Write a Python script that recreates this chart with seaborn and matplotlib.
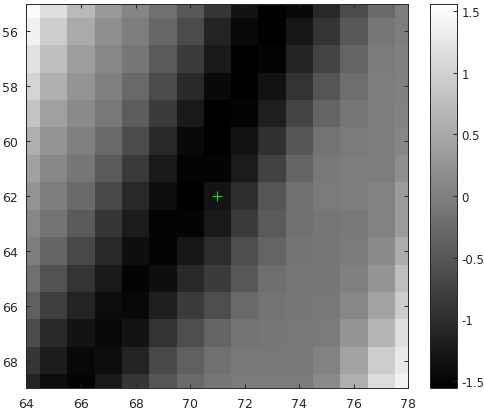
import numpy as np
import pandas as pd
import matplotlib
matplotlib.use("Agg")
import matplotlib.pyplot as plt
import seaborn as sns

# ── Data ───────────────────────────────────────────────────────────────────────
lon = [64, 65, 66, 67, 68, 69, 70, 71, 72, 73, 74, 75, 76, 77, 78]
lat = [55, 56, 57, 58, 59, 60, 61, 62, 63, 64, 65, 66, 67, 68, 69]
values = [
    [1.50, 1.16, 0.70, 0.30, 0.07, -0.19, -0.48, -0.89, -1.32, -1.56, -1.46, -1.07, -0.64, -0.27, -0.03],
    [1.38, 0.95, 0.52, 0.18, -0.03, -0.30, -0.64, -1.13, -1.46, -1.56, -1.29, -0.92, -0.48, -0.12, -0.03],
    [1.19, 0.76, 0.37, 0.09, -0.12, -0.46, -0.83, -1.25, -1.56, -1.50, -1.13, -0.73, -0.34, -0.07, 0.00],
    [1.03, 0.58, 0.25, 0.00, -0.27, -0.64, -1.05, -1.44, -1.56, -1.34, -0.95, -0.52, -0.21, -0.03, 0.00],
    [0.83, 0.40, 0.13, -0.09, -0.43, -0.83, -1.25, -1.56, -1.50, -1.19, -0.73, -0.34, -0.12, -0.03, 0.03],
    [0.58, 0.25, 0.00, -0.27, -0.64, -1.07, -1.44, -1.56, -1.34, -0.97, -0.52, -0.15, -0.07, -0.03, 0.09],
    [0.40, 0.09, -0.12, -0.46, -0.85, -1.25, -1.52, -1.50, -1.22, -0.76, -0.34, -0.09, -0.03, -0.03, 0.18],
    [0.25, -0.03, -0.27, -0.68, -1.07, -1.38, -1.56, -1.32, -1.01, -0.52, -0.19, -0.07, -0.03, 0.03, 0.34],
    [0.09, -0.15, -0.46, -0.89, -1.22, -1.50, -1.50, -1.25, -0.83, -0.46, -0.19, -0.12, -0.09, 0.03, 0.34],
    [-0.03, -0.34, -0.68, -1.07, -1.38, -1.52, -1.29, -1.01, -0.61, -0.34, -0.15, -0.12, -0.07, 0.13, 0.54],
    [-0.19, -0.56, -0.92, -1.25, -1.50, -1.38, -1.07, -0.83, -0.48, -0.21, -0.12, -0.12, 0.00, 0.25, 0.76],
    [-0.40, -0.80, -1.13, -1.41, -1.46, -1.19, -0.85, -0.61, -0.27, -0.15, -0.12, -0.09, 0.09, 0.42, 0.95],
    [-0.64, -1.05, -1.32, -1.46, -1.32, -0.95, -0.61, -0.34, -0.15, -0.12, -0.09, -0.07, 0.25, 0.64, 1.16],
    [-0.89, -1.22, -1.46, -1.38, -1.13, -0.68, -0.40, -0.19, -0.09, -0.09, -0.09, 0.03, 0.42, 0.95, 1.28],
    [-1.13, -1.41, -1.50, -1.25, -0.89, -0.52, -0.27, -0.12, -0.07, -0.07, -0.07, 0.13, 0.58, 1.13, 1.40],
]
x_ticks = [64, 66, 68, 70, 72, 74, 76, 78]
y_ticks = [56, 58, 60, 62, 64, 66, 68]
cbar_ticks = [-1.5, -1, -0.5, 0, 0.5, 1, 1.5]
cbar_labels = ["-1.5", "-1", "-0.5", "0", "0.5", "1", "1.5"]
marker_lon, marker_lat = 71, 62
vlim = 1.56

INK = "#262626"
plt.rcParams["font.family"] = "DejaVu Sans"
plt.rcParams["font.size"] = 9

df = pd.DataFrame(values, index=lat, columns=lon)

fig = plt.figure(figsize=(4.85, 4.10), dpi=100)
ax = fig.add_axes([26.5 / 485, 1 - 389 / 410, (408.5 - 26.5) / 485, (389 - 5) / 410])
cax = fig.add_axes([430.5 / 485, 1 - 389 / 410, (457.5 - 430.5) / 485, (389 - 5) / 410])

sns.heatmap(df, cmap="gray", vmin=-vlim, vmax=vlim, ax=ax, cbar_ax=cax,
            square=False, xticklabels=False, yticklabels=False)

# cell i is centred on i + 0.5, half cells are cut off at the edges
ax.set_xlim(0.5, len(lon) - 0.5)
ax.set_ylim(len(lat) - 0.5, 0.5)
ax.set_xticks([lon.index(v) + 0.5 for v in x_ticks], labels=[str(v) for v in x_ticks])
ax.set_yticks([lat.index(v) + 0.5 for v in y_ticks], labels=[str(v) for v in y_ticks])
ax.tick_params(top=True, right=True, direction="in", length=3.0, width=0.7,
               color=INK, labelcolor=INK, labelrotation=0)
ax.tick_params(axis="x", pad=6.5)
ax.tick_params(axis="y", pad=6)
ax.set_xlabel("")
ax.set_ylabel("")
for spine in ax.spines.values():
    spine.set_visible(True)
    spine.set_color(INK)
    spine.set_linewidth(0.7)

ax.plot(lon.index(marker_lon) + 0.5, lat.index(marker_lat) + 0.5, marker="+",
        color="#00ff00", markersize=6.5, markeredgewidth=0.7)

cbar = ax.collections[0].colorbar
cbar.set_ticks(cbar_ticks, labels=cbar_labels)
cbar.ax.tick_params(direction="in", length=3, width=0.7, color=INK, labelcolor=INK,
                    pad=3, labelsize=8.5)
cbar.outline.set_visible(True)
cbar.outline.set_edgecolor(INK)
cbar.outline.set_linewidth(0.7)

fig.savefig("out.png", dpi=100)
